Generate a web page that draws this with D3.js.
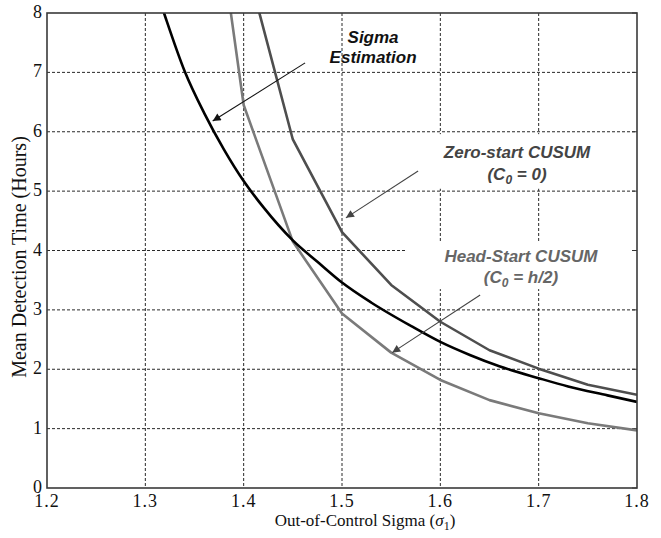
<!DOCTYPE html>
<html lang="en">
    <head>
        <meta charset="utf-8">
        <title>Mean Detection Time vs Out-of-Control Sigma</title>
        <script type="text/javascript" src="https://cdn.jsdelivr.net/npm/d3@7"></script>
        <style type="text/css">
            body { margin: 0; background: #fff; }
        </style>
    </head>

    <body>
        <script type="text/javascript">
            // Tick values
            var xTicks = [1.2, 1.3, 1.4, 1.5, 1.6, 1.7, 1.8];
            var yTicks = [0, 1, 2, 3, 4, 5, 6, 7, 8];

            // Sigma estimation curve
            var sigmaX   = [1.31, 1.32, 1.34, 1.36, 1.38, 1.40, 1.42, 1.45, 1.475, 1.50, 1.53, 1.57, 1.60, 1.63, 1.66, 1.70, 1.73, 1.77, 1.80];
            var sigmaEst = [8.45, 7.95, 7.02, 6.31, 5.70, 5.17, 4.73, 4.17, 3.81, 3.46, 3.12, 2.73, 2.46, 2.24, 2.05, 1.85, 1.71, 1.56, 1.45];

            // CUSUM curves, sampled every 0.05
            var cusumX    = [1.35, 1.40, 1.45, 1.50, 1.55, 1.60, 1.65, 1.70, 1.75, 1.80];
            var zeroStart = [null, 9.00, 5.87, 4.31, 3.42, 2.80, 2.32, 2.01, 1.74, 1.57];
            var headStart = [12.4, 6.45, 4.15, 2.94, 2.28, 1.82, 1.48, 1.26, 1.09, 0.97];

            // Establish dimensions of svg
            var w = 661;
            var h = 538;
            // plot box edges ("top" is taken by window.top, so prefix them)
            var pLeft = 47, pRight = 637, pTop = 13, pBottom = 488;

            var xScale = d3.scaleLinear().domain([1.2, 1.8]).range([pLeft, pRight]);
            var yScale = d3.scaleLinear().domain([0, 8]).range([pBottom, pTop]);

            var svg = d3.select("body")
                        .append("svg")
                        .attr("width", w)
                        .attr("height", h);

            var defs = svg.append("defs");
            defs.append("clipPath")
                .attr("id", "plot")
                .append("rect")
                .attr("x", pLeft).attr("y", pTop)
                .attr("width", pRight - pLeft).attr("height", pBottom - pTop);

            [["headDark", "#111"], ["headGray", "#444"]].forEach(function(m) {
                defs.append("marker")
                    .attr("id", m[0])
                    .attr("viewBox", "0 0 10 10")
                    .attr("refX", 10).attr("refY", 5)
                    .attr("markerUnits", "userSpaceOnUse")
                    .attr("markerWidth", 10).attr("markerHeight", 8)
                    .attr("orient", "auto")
                    .append("path")
                    .attr("d", "M0,0L10,5L0,10z")
                    .attr("fill", m[1]);
            });

            // Grid (dotted)
            var grid = svg.append("g")
                .attr("stroke", "#2a2a2a")
                .attr("stroke-width", 1)
                .attr("stroke-dasharray", "3,2");
            grid.selectAll("line.v")
                .data(xTicks.slice(1, -1))
                .enter().append("line")
                .attr("x1", function(d) { return xScale(d); })
                .attr("x2", function(d) { return xScale(d); })
                .attr("y1", pTop).attr("y2", pBottom);
            grid.selectAll("line.h")
                .data(yTicks.slice(1, -1))
                .enter().append("line")
                .attr("x1", pLeft).attr("x2", pRight)
                .attr("y1", function(d) { return yScale(d); })
                .attr("y2", function(d) { return yScale(d); });

            // White backgrounds of the two CUSUM labels cover the grid
            svg.append("rect")
                .attr("x", xScale(1.589)).attr("y", yScale(5.96))
                .attr("width", xScale(1.767) - xScale(1.589))
                .attr("height", yScale(5.04) - yScale(5.96))
                .attr("fill", "#fff");
            svg.append("rect")
                .attr("x", xScale(1.566)).attr("y", yScale(4.13))
                .attr("width", xScale(1.8) - xScale(1.566))
                .attr("height", yScale(3.35) - yScale(4.13))
                .attr("fill", "#fff");

            // Right side ticks (inside)
            svg.selectAll("line.rt")
                .data(yTicks)
                .enter().append("line")
                .attr("x1", pRight - 5).attr("x2", pRight)
                .attr("y1", function(d) { return yScale(d); })
                .attr("y2", function(d) { return yScale(d); })
                .attr("stroke", "#333");

            // Curves
            var lineSigma = d3.line()
                .x(function(d, i) { return xScale(sigmaX[i]); })
                .y(function(d) { return yScale(d); })
                .curve(d3.curveMonotoneX);
            var lineCusum = d3.line()
                .defined(function(d) { return d !== null; })
                .x(function(d, i) { return xScale(cusumX[i]); })
                .y(function(d) { return yScale(d); });

            var curves = svg.append("g").attr("clip-path", "url(#plot)")
                .attr("fill", "none").attr("stroke-width", 2.6)
                .attr("stroke-linejoin", "round");
            curves.append("path").attr("d", lineCusum(headStart)).attr("stroke", "#7a7a7a");
            curves.append("path").attr("d", lineCusum(zeroStart)).attr("stroke", "#4e4e4e");
            curves.append("path").attr("d", lineSigma(sigmaEst)).attr("stroke", "#000");

            // Annotations, placed in data units
            var arrows = [
                { x1: 1.4625, y1: 7.16, x2: 1.3685, y2: 6.18, c: "#111", m: "headDark" },
                { x1: 1.5774, y1: 5.34, x2: 1.5040, y2: 4.55, c: "#444", m: "headGray" },
                { x1: 1.6405, y1: 3.25, x2: 1.5510, y2: 2.28, c: "#444", m: "headGray" }
            ];
            svg.selectAll("line.arrow")
                .data(arrows)
                .enter().append("line")
                .attr("x1", function(d) { return xScale(d.x1); })
                .attr("y1", function(d) { return yScale(d.y1); })
                .attr("x2", function(d) { return xScale(d.x2); })
                .attr("y2", function(d) { return yScale(d.y2); })
                .attr("stroke", function(d) { return d.c; })
                .attr("stroke-width", 1.1)
                .attr("marker-end", function(d) { return "url(#" + d.m + ")"; });

            var labelFont = "'Liberation Sans', Arial, sans-serif";
            function label(x, y, color) {
                return svg.append("text")
                    .attr("x", xScale(x)).attr("y", yScale(y))
                    .attr("text-anchor", "middle")
                    .attr("font-family", labelFont)
                    .attr("font-size", "17px")
                    .attr("font-weight", "bold")
                    .attr("font-style", "italic")
                    .attr("fill", color);
            }
            label(1.5316, 7.49, "#111").text("Sigma");
            label(1.5316, 7.15, "#111").text("Estimation");
            label(1.678, 5.55, "#444").text("Zero-start CUSUM");
            var z = label(1.678, 5.18, "#444");
            z.append("tspan").text("(C");
            z.append("tspan").attr("font-size", "12px").attr("dy", 4).text("0");
            z.append("tspan").attr("dy", -4).text(" = 0)");
            label(1.682, 3.80, "#666").text("Head-Start CUSUM");
            var hs = label(1.682, 3.45, "#666");
            hs.append("tspan").text("(C");
            hs.append("tspan").attr("font-size", "12px").attr("dy", 4).text("0");
            hs.append("tspan").attr("dy", -4).text(" = h/2)");

            // Axes box
            svg.append("rect")
                .attr("x", pLeft).attr("y", pTop)
                .attr("width", pRight - pLeft).attr("height", pBottom - pTop)
                .attr("fill", "none")
                .attr("stroke", "#3a3a3a")
                .attr("stroke-width", 1.6);

            // Tick labels
            var serif = "'Liberation Serif', 'Times New Roman', serif";
            svg.selectAll("text.xt")
                .data(xTicks)
                .enter().append("text")
                .text(function(d) { return d.toFixed(1); })
                .attr("x", function(d) { return xScale(d); })
                .attr("y", 507)
                .attr("text-anchor", "middle")
                .attr("font-family", serif)
                .attr("font-size", "18px")
                .attr("letter-spacing", "1px")
                .attr("fill", "#111");
            svg.selectAll("text.yt")
                .data(yTicks)
                .enter().append("text")
                .text(function(d) { return d; })
                .attr("x", pLeft - 5)
                .attr("y", function(d) { return yScale(d) + 5; })
                .attr("text-anchor", "end")
                .attr("font-family", serif)
                .attr("font-size", "18px")
                .attr("fill", "#111");

            // Axis titles
            var xl = svg.append("text")
                .attr("x", 365).attr("y", 526)
                .attr("text-anchor", "middle")
                .attr("font-family", serif)
                .attr("font-size", "17px")
                .attr("fill", "#111");
            xl.append("tspan").text("Out-of-Control Sigma (");
            xl.append("tspan").attr("font-style", "italic").text("\u03c3");
            xl.append("tspan").attr("font-size", "12px").attr("dy", 4).text("1");
            xl.append("tspan").attr("dy", -4).text(")");

            svg.append("text")
                .attr("transform", "translate(26," + 257 + ") rotate(-90)")
                .attr("text-anchor", "middle")
                .attr("font-family", serif)
                .attr("font-size", "20px")
                .attr("fill", "#111")
                .text("Mean Detection Time (Hours)");
        </script>
    </body>
</html>
